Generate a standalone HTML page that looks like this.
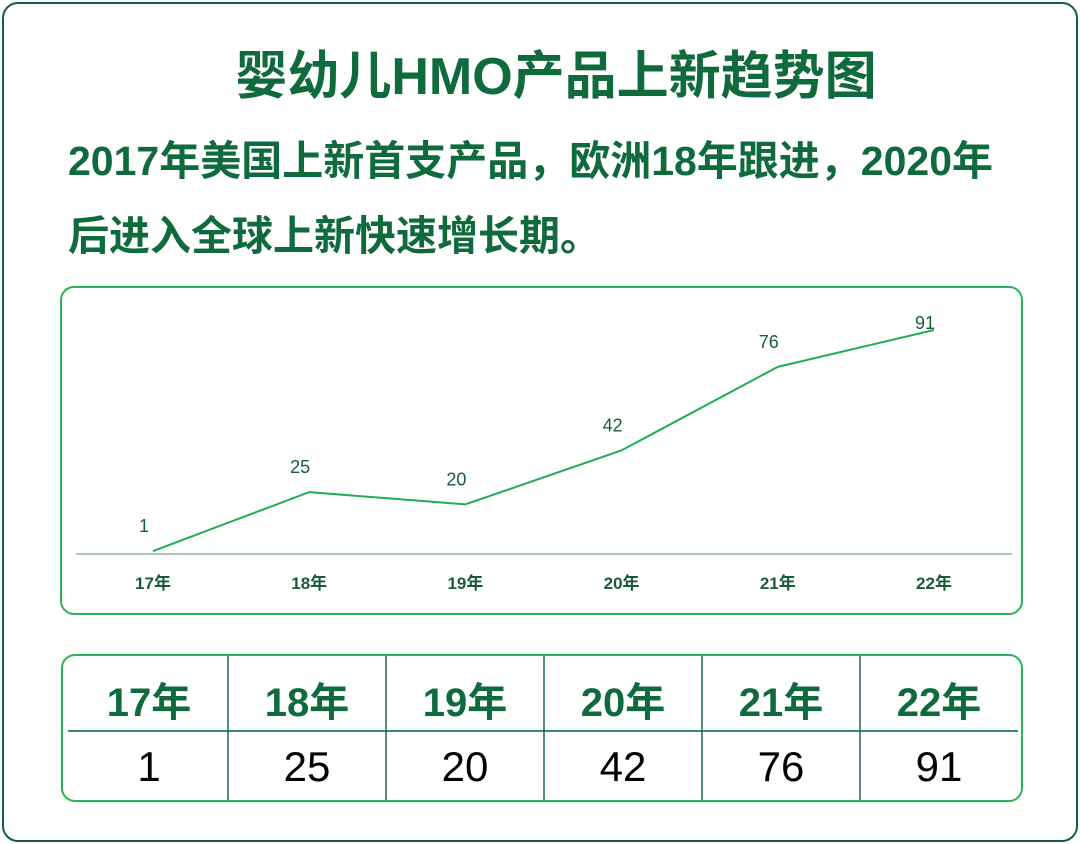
<!DOCTYPE html>
<html><head><meta charset="utf-8">
<style>
body{margin:0;width:1080px;height:844px;background:#fff;font-family:"Liberation Sans","Noto Sans CJK SC",sans-serif;position:relative;overflow:hidden}
.frame{position:absolute;left:2px;top:2px;width:1072px;height:836px;border:2px solid #15603a;border-radius:16px}
.title{position:absolute;left:0;width:1112px;top:44px;text-align:center;font-size:52px;font-weight:bold;color:#0f6a3c;line-height:66px}
.sub{position:absolute;left:68px;font-size:41px;font-weight:bold;color:#0f6a3c;line-height:52px;white-space:nowrap}
.box{position:absolute;border:2px solid #2cb35a;border-radius:14px}
.cell{position:absolute;width:158px;text-align:center}
.hd{font-size:40px;font-weight:bold;color:#0f6a3c;top:670px}
.vl{font-size:42px;color:#000;top:743px}
</style></head><body>
<div class="frame"></div>
<div class="title">婴幼儿HMO产品上新趋势图</div>
<div class="sub" style="top:135px">2017年美国上新首支产品，欧洲18年跟进，2020年</div>
<div class="sub" style="top:210px">后进入全球上新快速增长期。</div>
<div class="box" style="left:60px;top:286px;width:959px;height:325px"></div>
<svg id="chart" width="1080" height="844" style="position:absolute;left:0;top:0"></svg>
<div class="box" style="left:61px;top:654px;width:958px;height:144px"></div>
<div id="table"></div>
<script>
const categories=["17年","18年","19年","20年","21年","22年"];
const values=[1,25,20,42,76,91];
const NS="http://www.w3.org/2000/svg";
const svg=document.getElementById("chart");
function xPos(i){return 153+i*156.2;}
function yPos(v){return 553.5-v*2.456;}
function mk(tag,attrs){const e=document.createElementNS(NS,tag);for(const k in attrs)e.setAttribute(k,attrs[k]);svg.appendChild(e);return e;}
const ax=mk("line",{x1:76,x2:1012,y1:554,y2:554,stroke:"#5a8a78","stroke-width":1});


const pts=values.map((v,i)=>xPos(i)+","+yPos(v)).join(" ");
const pl=mk("polyline",{points:pts,fill:"none",stroke:"#1fae55","stroke-width":2});


values.forEach((v,i)=>{
  const y=Math.max(yPos(v)-19,329);
  const t=mk("text",{x:xPos(i)-9,y:y,"text-anchor":"middle","font-size":18,fill:"#1a5c3a","font-family":"Liberation Sans, sans-serif"});
  t.textContent=v;
  
  
});
categories.forEach((c,i)=>{
  const t=mk("text",{x:xPos(i),y:589,"text-anchor":"middle","font-size":17,"font-weight":"bold",fill:"#1a5c3a","font-family":"Liberation Sans, Noto Sans CJK SC, sans-serif"});
  t.textContent=c;
  
  
});
const hl=mk("line",{x1:68,x2:1018,y1:731,y2:731,stroke:"#3d8a64","stroke-width":2});


for(let i=1;i<6;i++){
  const x=70+i*158;
  const l=mk("line",{x1:x,x2:x,y1:655,y2:801,stroke:"#1d6a44","stroke-width":1.5});
  
  
}
const tb=document.getElementById("table");
categories.forEach((c,i)=>{
  const h=document.createElement("div");
  h.className="cell hd";h.style.left=(70+i*158)+"px";
  h.textContent=c;
  
  
  tb.appendChild(h);
  const d=document.createElement("div");
  d.className="cell vl";d.style.left=(70+i*158)+"px";
  d.textContent=values[i];
  
  
  tb.appendChild(d);
});
</script>
</body></html>
